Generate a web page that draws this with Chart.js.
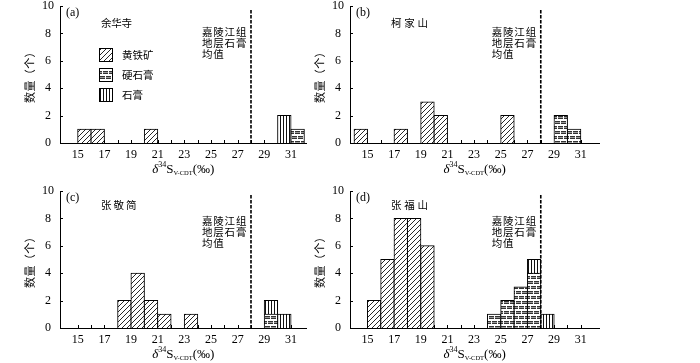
<!DOCTYPE html>
<html>
<head>
<meta charset="utf-8">
<script src="https://cdn.jsdelivr.net/npm/chart.js@4.4.1/dist/chart.umd.min.js"></script>
<style>
  body { margin: 0; background: #fff; width: 700px; height: 363px; position: relative; overflow: hidden; }
  canvas { position: absolute; }
</style>
</head>
<body>
<canvas id="pa" width="320" height="180" style="left:0;top:0"></canvas>
<canvas id="pb" width="320" height="180" style="left:290px;top:0"></canvas>
<canvas id="pc" width="320" height="180" style="left:0;top:185px"></canvas>
<canvas id="pd" width="320" height="180" style="left:290px;top:185px"></canvas>
<script>
// bins are 1‰ wide, each bar spans [start, start + 1]
const binStarts = [14, 15, 16, 17, 18, 19, 20, 21, 22, 23, 24, 25, 26, 27, 28, 29, 30, 31];
const xTickLabels = ['15', '17', '19', '21', '23', '25', '27', '29', '31'];
const yTicks = [0, 2, 4, 6, 8, 10];

//                 14 15 16 17 18 19 20 21 22 23 24 25 26 27 28 29 30 31
const pyriteA    = [0, 1, 1, 0, 0, 0, 1, 0, 0, 0, 0, 0, 0, 0, 0, 0, 0, 0];
const anhydriteA = [0, 0, 0, 0, 0, 0, 0, 0, 0, 0, 0, 0, 0, 0, 0, 0, 0, 1];
const gypsumA    = [0, 0, 0, 0, 0, 0, 0, 0, 0, 0, 0, 0, 0, 0, 0, 0, 2, 0];

const pyriteB    = [1, 0, 0, 1, 0, 3, 2, 0, 0, 0, 0, 2, 0, 0, 0, 0, 0, 0];
const anhydriteB = [0, 0, 0, 0, 0, 0, 0, 0, 0, 0, 0, 0, 0, 0, 0, 2, 1, 0];
const gypsumB    = [0, 0, 0, 0, 0, 0, 0, 0, 0, 0, 0, 0, 0, 0, 0, 0, 0, 0];

const pyriteC    = [0, 0, 0, 0, 2, 4, 2, 1, 0, 1, 0, 0, 0, 0, 0, 0, 0, 0];
const anhydriteC = [0, 0, 0, 0, 0, 0, 0, 0, 0, 0, 0, 0, 0, 0, 0, 1, 0, 0];
const gypsumC    = [0, 0, 0, 0, 0, 0, 0, 0, 0, 0, 0, 0, 0, 0, 0, 1, 1, 0];

const pyriteD    = [0, 2, 5, 8, 8, 6, 0, 0, 0, 0, 0, 0, 0, 0, 0, 0, 0, 0];
const anhydriteD = [0, 0, 0, 0, 0, 0, 0, 0, 0, 0, 1, 2, 3, 4, 0, 0, 0, 0];
const gypsumD    = [0, 0, 0, 0, 0, 0, 0, 0, 0, 0, 0, 0, 0, 1, 1, 0, 0, 0];

const seriesNames = ['黄铁矿', '硬石膏', '石膏'];
const siteNames = ['余华寺', '柯家山', '张敬简', '张福山'];
const panelLetters = ['(a)', '(b)', '(c)', '(d)'];
const meanNote = ['嘉陵江组', '地层石膏', '均值'];
const jlMean = 28;

const SERIF = '"Liberation Serif", "DejaVu Serif", serif';
const CJK = '"Noto Sans CJK SC", sans-serif';

Chart.defaults.color = '#000';
Chart.defaults.font.family = SERIF;

// --- fill patterns ---
let makePattern = (w, h, draw) => {
  let c = document.createElement('canvas');
  c.width = w; c.height = h;
  let g = c.getContext('2d');
  g.fillStyle = '#fff';
  g.fillRect(0, 0, w, h);
  draw(g, w, h);
  return g.createPattern(c, 'repeat');
};

let diagPattern = makePattern(5, 5, (g, w, h) => {
  g.strokeStyle = '#111';
  g.lineWidth = 0.9;
  g.beginPath();
  g.moveTo(-1, h + 1); g.lineTo(w + 1, -1);
  g.moveTo(-1, 1); g.lineTo(1, -1);
  g.moveTo(w - 1, h + 1); g.lineTo(w + 1, h - 1);
  g.stroke();
});

let brickPattern = makePattern(12, 10, (g) => {
  let block = (x0, y0) => {
    for (let r = 0; r < 3; r++) {
      g.fillStyle = r === 1 ? '#999' : '#333';
      g.fillRect(x0, y0 + r, 5, 1);
      if (x0 + 5 > 12) g.fillRect(x0 - 12, y0 + r, 5, 1);
    }
  };
  block(1, 1); block(7, 1);
  block(4, 6); block(10, 6);
});

let vertPattern = makePattern(3, 3, (g) => {
  g.fillStyle = '#111';
  g.fillRect(1, 0, 1, 3);
});

const patterns = [diagPattern, brickPattern, vertPattern];

// draw a string char by char with a fixed advance
let spaced = (ctx, text, x, y, adv) => {
  [...text].forEach((ch, i) => ctx.fillText(ch, x + i * adv, y));
};

let drawXTitle = (ctx, cx, baseline) => {
  let parts = [
    { t: 'δ', f: 'italic 13px ' + SERIF, dy: 0 },
    { t: '34', f: '8px ' + SERIF, dy: -6 },
    { t: 'S', f: '13px ' + SERIF, dy: 0 },
    { t: 'V-CDT', f: '6.5px ' + SERIF, dy: 2 },
    { t: '(‰)', f: '13px ' + SERIF, dy: 0 }
  ];
  let total = 0;
  parts.forEach(p => { ctx.font = p.f; p.w = ctx.measureText(p.t).width; total += p.w; });
  let x = cx - total / 2;
  ctx.textAlign = 'left';
  ctx.textBaseline = 'alphabetic';
  parts.forEach(p => { ctx.font = p.f; ctx.fillText(p.t, x, baseline + p.dy); x += p.w; });
};

const decor = {
  id: 'decor',
  beforeDatasetsDraw(chart, args, o) {
    let { ctx, chartArea: a, scales: { x, y } } = chart;
    ctx.save();
    ctx.strokeStyle = '#000';
    ctx.lineWidth = 1;
    ctx.beginPath();
    x.ticks.forEach(t => {
      if (t.value < 15 || t.value > 31) return;
      let px = Math.round(x.getPixelForValue(t.value)) + 0.5;
      ctx.moveTo(px, a.bottom);
      ctx.lineTo(px, a.bottom - 3);
    });
    yTicks.slice(1).forEach(v => {
      let py = Math.round(y.getPixelForValue(v)) + 0.5;
      ctx.moveTo(a.left, py);
      ctx.lineTo(a.left + 3, py);
    });
    ctx.stroke();
    ctx.restore();
  },
  afterDraw(chart, args, o) {
    let { ctx, chartArea: a, scales: { x, y } } = chart;
    ctx.save();
    ctx.fillStyle = '#000';

    // mean line
    let mx = x.getPixelForValue(jlMean);
    ctx.strokeStyle = '#000';
    ctx.lineWidth = 1.6;
    ctx.setLineDash([3.5, 1.5]);
    ctx.beginPath();
    ctx.moveTo(mx, y.getPixelForValue(9.7));
    ctx.lineTo(mx, a.bottom);
    ctx.stroke();
    ctx.setLineDash([]);

    // panel letter and site
    ctx.textBaseline = 'middle';
    ctx.textAlign = 'left';
    ctx.font = '12px ' + SERIF;
    ctx.fillText(o.letter, a.left + 6, a.top + 7);
    ctx.font = '10.5px ' + CJK;
    spaced(ctx, o.site, a.left + 41, a.top + o.siteDy, o.siteAdv);

    // mean annotation
    ctx.font = '10.5px ' + CJK;
    meanNote.forEach((line, i) => {
      spaced(ctx, line, mx - 49, a.top + o.noteDy + i * 11, 11.3);
    });

    // legend (panel a only)
    if (o.legend) {
      seriesNames.forEach((name, i) => {
        let bx = a.left + 39, by = a.top + 42 + i * 20;
        ctx.fillStyle = patterns[i];
        ctx.fillRect(bx, by, 14, 14);
        ctx.strokeStyle = '#000';
        ctx.lineWidth = 1;
        ctx.strokeRect(bx + 0.5, by + 0.5, 13, 13);
        ctx.fillStyle = '#000';
        ctx.font = '10.5px ' + CJK;
        spaced(ctx, name, bx + 23, by + 7, 10.5);
      });
    }

    // axis titles
    drawXTitle(ctx, (a.left + a.right) / 2, 173);
    ctx.save();
    ctx.translate(30, (a.top + a.bottom) / 2);
    ctx.rotate(-Math.PI / 2);
    ctx.font = '11px ' + CJK;
    ctx.textBaseline = 'middle';
    let ytitle = '数量（个）';
    spaced(ctx, ytitle, -ytitle.length * 11.4 / 2, 0, 11.4);
    ctx.restore();

    ctx.restore();
  }
};

const PLOT_TOP = 6, PLOT_BOTTOM = 143, PLOT_LEFT = 60, CANVAS_H = 180;

let makePanel = (id, idx, series, xr, right, extra) => {
  let datasets = series.map((counts, s) => ({
    label: seriesNames[s],
    data: binStarts.map((b, i) => ({ x: b + 0.5, y: counts[i] || null })),
    backgroundColor: patterns[s],
    borderColor: '#000',
    borderWidth: 1,
    borderSkipped: 'start',
    inflateAmount: 0.5,
    barPercentage: 1,
    categoryPercentage: 1
  }));

  new Chart(document.getElementById(id), {
    type: 'bar',
    data: { datasets },
    plugins: [decor],
    options: {
      responsive: false,
      animation: false,
      devicePixelRatio: 1,
      layout: { padding: { top: PLOT_TOP, left: 0, right: 320 - right, bottom: 0 } },
      plugins: {
        legend: { display: false },
        tooltip: { enabled: false },
        decor: Object.assign({ letter: panelLetters[idx], site: siteNames[idx] }, extra)
      },
      scales: {
        x: {
          type: 'linear',
          min: xr[0],
          max: xr[1],
          stacked: true,
          offset: false,
          grid: { display: false, drawTicks: false },
          border: { display: true, color: '#000', width: 1 },
          ticks: {
            stepSize: 1,
            includeBounds: false,
            autoSkip: false,
            maxRotation: 0,
            padding: 5,
            font: { size: 12, family: SERIF },
            callback: v => xTickLabels.includes(String(v)) ? String(v) : ''
          },
          afterFit: s => { s.height = CANVAS_H - PLOT_BOTTOM; s.paddingLeft = 0; s.paddingRight = 0; }
        },
        y: {
          min: 0,
          max: 10,
          stacked: true,
          grid: { display: false, drawTicks: false },
          border: { display: true, color: '#000', width: 1 },
          ticks: {
            stepSize: 2,
            padding: 6,
            crossAlign: 'center',
            font: { size: 12, family: SERIF }
          },
          afterFit: s => { s.width = PLOT_LEFT; s.paddingTop = 0; s.paddingBottom = 0; }
        }
      }
    }
  });
};

makePanel('pa', 0, [pyriteA, anhydriteA, gypsumA], [13.67, 32.18], 306.7, { legend: true, siteDy: 17, siteAdv: 10.3, noteDy: 26 });
makePanel('pb', 1, [pyriteB, anhydriteB, gypsumB], [13.69, 32.39], 309.3, { siteDy: 17, siteAdv: 13.2, noteDy: 26 });
makePanel('pc', 2, [pyriteC, anhydriteC, gypsumC], [13.67, 32.18], 306.7, { siteDy: 14, siteAdv: 12.5, noteDy: 30.5 });
makePanel('pd', 3, [pyriteD, anhydriteD, gypsumD], [13.69, 32.39], 309.3, { siteDy: 14, siteAdv: 13.2, noteDy: 30.5 });
</script>
</body>
</html>
